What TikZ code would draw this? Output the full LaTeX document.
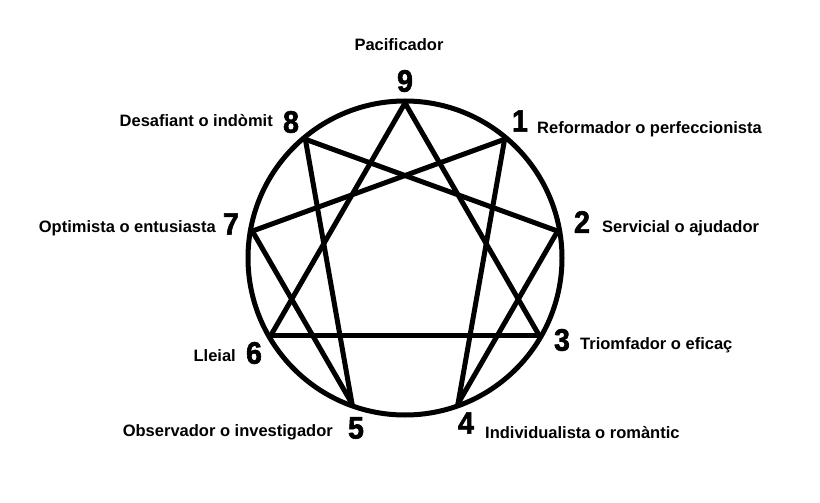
\documentclass[tikz,border=0pt]{standalone}
\usepackage{fontspec}
\setmainfont{Liberation Sans}
\newfontfamily\digitfont[FakeBold=2,FakeStretch=0.92]{Liberation Sans Bold}
\begin{document}
\begin{tikzpicture}[x=1pt,y=1pt,
  ring/.style={line width=5pt},
  chord/.style={line width=5pt,line cap=round,line join=round},
  digit/.style={inner sep=0pt,font=\fontsize{31}{31}\digitfont},
  lab/.style={inner sep=0pt,font=\fontsize{16.5}{18}\selectfont\bfseries}]
\useasboundingbox[fill=white] (0,0) rectangle (820,-503);
\coordinate (C) at (405,-258);
\draw[ring] (C) circle (157);
\foreach \n/\a in {9/90,1/50,2/10,3/-30,4/-70,5/-110,6/-150,7/170,8/130}
  \path (C) ++(\a:155) coordinate (p\n);
% triangle
\draw[chord] (p9) -- (p3);
\draw[chord] (p3) -- (p6);
\draw[chord] (p6) -- (p9);
% hexad
\draw[chord] (p1) -- (p4);
\draw[chord] (p4) -- (p2);
\draw[chord] (p2) -- (p8);
\draw[chord] (p8) -- (p5);
\draw[chord] (p5) -- (p7);
\draw[chord] (p7) -- (p1);
% digits
\node[digit] (n9) at (405,-81) {9};
\node[digit] (n1) at (520,-121) {1};
\node[digit] (n2) at (582,-222) {2};
\node[digit] (n3) at (562,-340) {3};
\node[digit] (n4) at (466,-423) {4};
\node[digit] (n5) at (356,-428) {5};
\node[digit] (n6) at (254,-353) {6};
\node[digit] (n7) at (231,-224) {7};
\node[digit] (n8) at (291,-122) {8};
% labels
\node[lab,anchor=base] (l9) at (399,-51) {Pacificador};
\node[lab,anchor=base west] (l1) at (537,-133) {Reformador o perfeccionista};
\node[lab,anchor=base west] (l2) at (602,-232) {Servicial o ajudador};
\node[lab,anchor=base west] (l3) at (580,-349) {Triomfador o eficaç};
\node[lab,anchor=base west] (l4) at (485,-438) {Individualista o romàntic};
\node[lab,anchor=base east] (l5) at (333,-436) {Observador o investigador};
\node[lab,anchor=base east] (l6) at (236,-361) {Lleial};
\node[lab,anchor=base east] (l7) at (216,-232) {Optimista o entusiasta};
\node[lab,anchor=base east] (l8) at (273,-127) {Desafiant o indòmit};
\end{tikzpicture}
\end{document}
